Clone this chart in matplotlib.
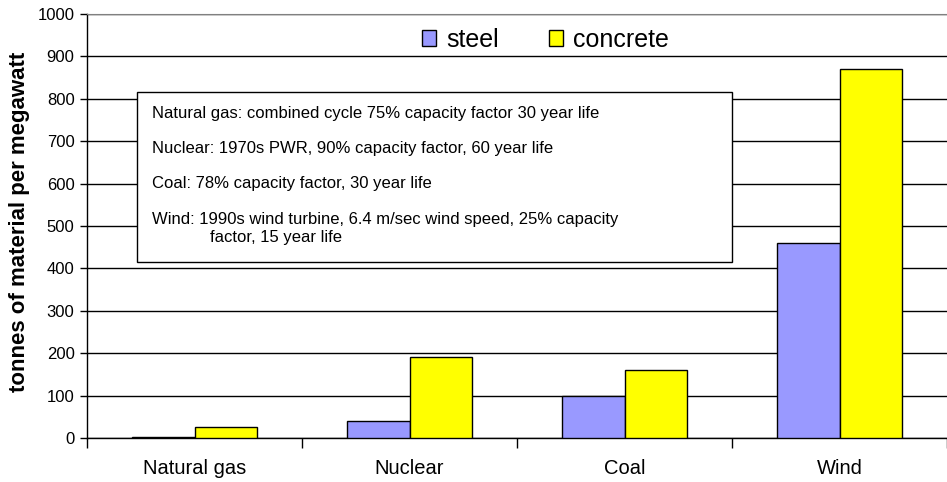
import numpy as np
import matplotlib
matplotlib.use("Agg")
import matplotlib.pyplot as plt
from matplotlib.patches import Rectangle

plt.rcParams['font.family'] = ['Liberation Sans', 'DejaVu Sans']

categories = ['Natural gas', 'Nuclear', 'Coal', 'Wind']
steel = [3, 40, 100, 460]
concrete = [27, 190, 160, 870]
notes = [
    'Natural gas: combined cycle 75% capacity factor 30 year life',
    'Nuclear: 1970s PWR, 90% capacity factor, 60 year life',
    'Coal: 78% capacity factor, 30 year life',
    'Wind: 1990s wind turbine, 6.4 m/sec wind speed, 25% capacity',
    'factor, 15 year life',
]

fig = plt.figure(figsize=(9.47, 4.82), dpi=100)
ax = fig.add_axes([87 / 947, 1 - 438 / 482, 860 / 947, 424 / 482])

x = np.arange(len(categories))
w = 0.29
ax.bar(x - w / 2, steel, width=w, color='#9999ff', edgecolor='black', linewidth=1, label='steel', zorder=3)
ax.bar(x + w / 2, concrete, width=w, color='#ffff00', edgecolor='black', linewidth=1, label='concrete', zorder=3)

ax.set_xlim(-0.5, len(categories) - 0.5)
ax.set_ylim(0, 1000)
ax.set_yticks(range(0, 1001, 100))
ax.yaxis.grid(True, color='black', linewidth=1, zorder=0)
ax.set_axisbelow(True)

ax.set_xticks(x)
ax.set_xticklabels(categories, fontsize=14.5)
ax.tick_params(axis='x', length=0, pad=15)
ax.set_xticks(np.arange(len(categories) + 1) - 0.5, minor=True)
ax.tick_params(axis='x', which='minor', length=7, width=1, direction='out')
ax.tick_params(axis='y', length=5, width=1, labelsize=12, pad=4)

ax.spines['top'].set_color('#808080')
ax.spines['right'].set_visible(False)
ax.spines['left'].set_linewidth(1)
ax.spines['bottom'].set_linewidth(1)

ax.set_ylabel('tonnes of material per megawatt', fontsize=16, fontweight='bold')
ax.yaxis.set_label_coords(-0.066, 0.51)

ax.legend(loc='center', bbox_to_anchor=(0.533, 0.939), ncol=2, frameon=False,
          fontsize=18, handlelength=0.55, handleheight=0.55, handletextpad=0.4,
          columnspacing=2.0, borderpad=0)

ax.add_patch(Rectangle((0.058, 0.415), 0.692, 0.401, transform=ax.transAxes,
                       facecolor='white', edgecolor='black', linewidth=1, zorder=5))
ys = [0.765, 0.682, 0.600, 0.515, 0.472]
xs = [0.0756, 0.0756, 0.0756, 0.0756, 0.143]
for t, xx, yy in zip(notes, xs, ys):
    ax.text(xx, yy, t, transform=ax.transAxes, fontsize=12, va='center', ha='left', zorder=6)

fig.savefig('out.png', dpi=100)
